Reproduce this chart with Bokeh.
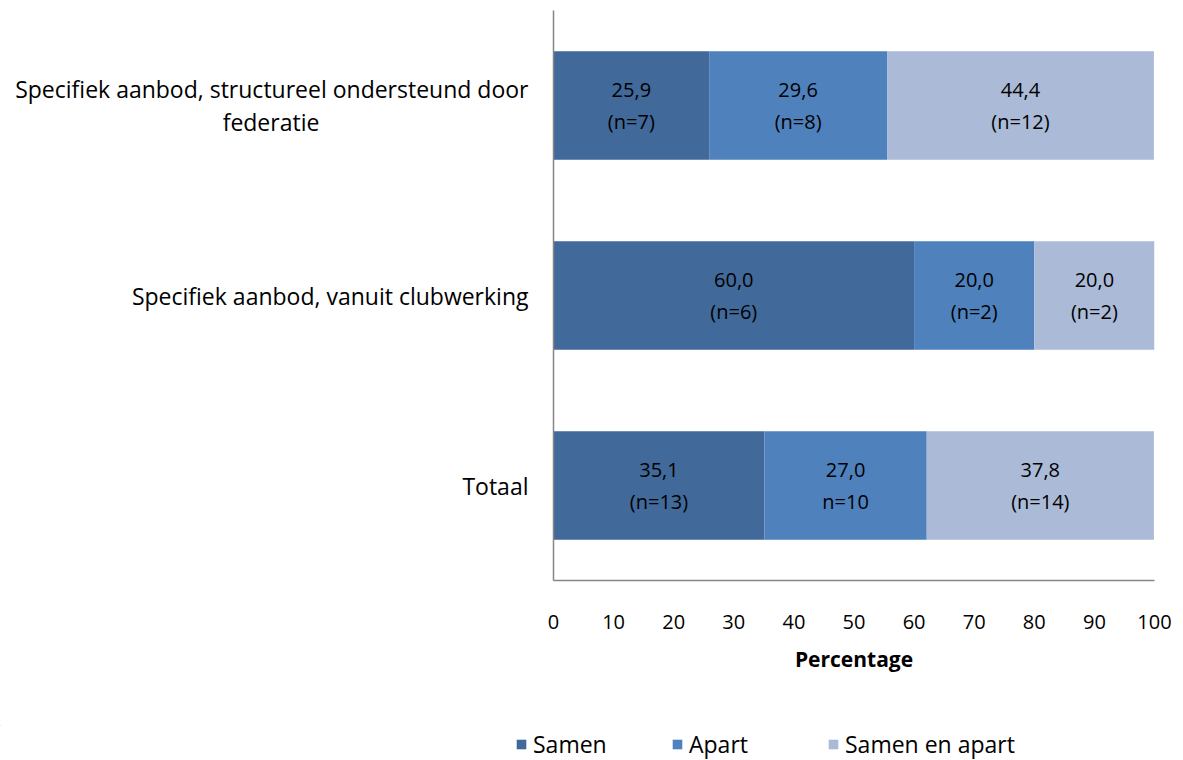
from bokeh.plotting import figure
from bokeh.layouts import column
from bokeh.models import FactorRange, Legend, LegendItem, ColumnDataSource, FixedTicker
from bokeh.core.properties import value
from bokeh.embed import file_html
from bokeh.resources import INLINE

NB = "\u00a0"
categories = ["Specifiek aanbod, structureel ondersteund door\nfederatie" + NB * 35,
              "Specifiek aanbod, vanuit clubwerking",
              "Totaal"]
series = ["Samen", "Apart", "Samen en apart"]
samen = [25.9, 60.0, 35.1]
apart = [29.6, 20.0, 27.0]
samen_apart = [44.4, 20.0, 37.8]
n_samen = ["(n=7)", "(n=6)", "(n=13)"]
n_apart = ["(n=8)", "(n=2)", "n=10"]
n_samen_apart = ["(n=12)", "(n=2)", "(n=14)"]
x_ticks = [0, 10, 20, 30, 40, 50, 60, 70, 80, 90, 100]
colors = ["#41699A", "#4F81BD", "#AABAD7"]

FONT = "Open Sans"

p = figure(width=1183, height=725, output_backend="svg", toolbar_location=None,
           y_range=FactorRange(*reversed(categories), range_padding=0),
           x_range=(0, 100),
           min_border_left=553, min_border_right=29, min_border_top=10, min_border_bottom=145)
p.outline_line_color = None
p.grid.grid_line_color = None

src = ColumnDataSource(dict(cat=categories, Samen=samen, Apart=apart, **{"Samen en apart": samen_apart}))
rs = p.hbar_stack(series, y="cat", height=0.57, color=colors, source=src, line_color=None)

vals = [samen, apart, samen_apart]
ns = [n_samen, n_apart, n_samen_apart]
left = [0.0] * len(categories)
for v, n in zip(vals, ns):
    xs = [l + vv / 2 for l, vv in zip(left, v)]
    txt = [("%.1f" % vv).replace(".", ",") + "\n" + nn for vv, nn in zip(v, n)]
    p.text(x=xs, y=categories, text=txt, text_align="center", text_baseline="middle",
           text_font=value(FONT), text_font_size="20px", text_color="#000000",
           text_line_height=1.16)
    left = [l + vv for l, vv in zip(left, v)]

# axes
p.xaxis.ticker = FixedTicker(ticks=x_ticks)
p.xaxis.axis_label = "Percentage"
p.xaxis.axis_label_text_font = FONT
p.xaxis.axis_label_text_font_style = "bold"
p.xaxis.axis_label_text_font_size = "21px"
p.xaxis.axis_label_text_color = "#000000"
p.xaxis.axis_label_standoff = 13
p.xaxis.major_label_text_font = FONT
p.xaxis.major_label_text_font_size = "20px"
p.xaxis.major_label_text_color = "#000000"
p.xaxis.major_label_standoff = 28
p.xaxis.major_tick_line_color = None
p.xaxis.minor_tick_line_color = None
p.xaxis.axis_line_color = "#868686"
p.xaxis.axis_line_width = 1.5

p.yaxis.major_label_text_font = FONT
p.yaxis.major_label_text_font_size = "23px"
p.yaxis.major_label_text_line_height = 1.03
p.yaxis.major_label_text_color = "#000000"
p.yaxis.major_label_standoff = 19
p.yaxis.major_tick_line_color = None
p.yaxis.minor_tick_line_color = None
p.yaxis.axis_line_color = "#868686"
p.yaxis.axis_line_width = 1.5

# legend strip below the chart (its bars lie outside the visible range; only the legend shows)
pl = figure(width=1183, height=35, output_backend="svg", toolbar_location=None,
            x_axis_type=None, y_axis_type=None, x_range=(1000, 1001), y_range=(0, 1),
            min_border=0)
if "frame_align" in pl.properties():
    pl.frame_align = False
    p.frame_align = False
pl.outline_line_color = None
pl.grid.grid_line_color = None
leg_rs = pl.hbar_stack(series, y="cat", height=0.5, color=colors, line_color=None,
                       source=ColumnDataSource(dict(cat=[10.0], Samen=[samen[0]], Apart=[apart[0]],
                                                    **{"Samen en apart": [samen_apart[0]]})))

legend = Legend(items=[LegendItem(label=name, renderers=[r]) for r, name in zip(leg_rs, series)],
                location=(515, 0), orientation="horizontal",
                glyph_width=12, glyph_height=12, label_width=124, spacing=14,
                label_text_font=FONT, label_text_font_size="23px", label_standoff=6,
                label_text_color="#000000",
                padding=0, margin=0, border_line_color=None, background_fill_alpha=0)
pl.add_layout(legend, "center")

open("out.html", "w").write(file_html(column(p, pl, spacing=0), INLINE))
